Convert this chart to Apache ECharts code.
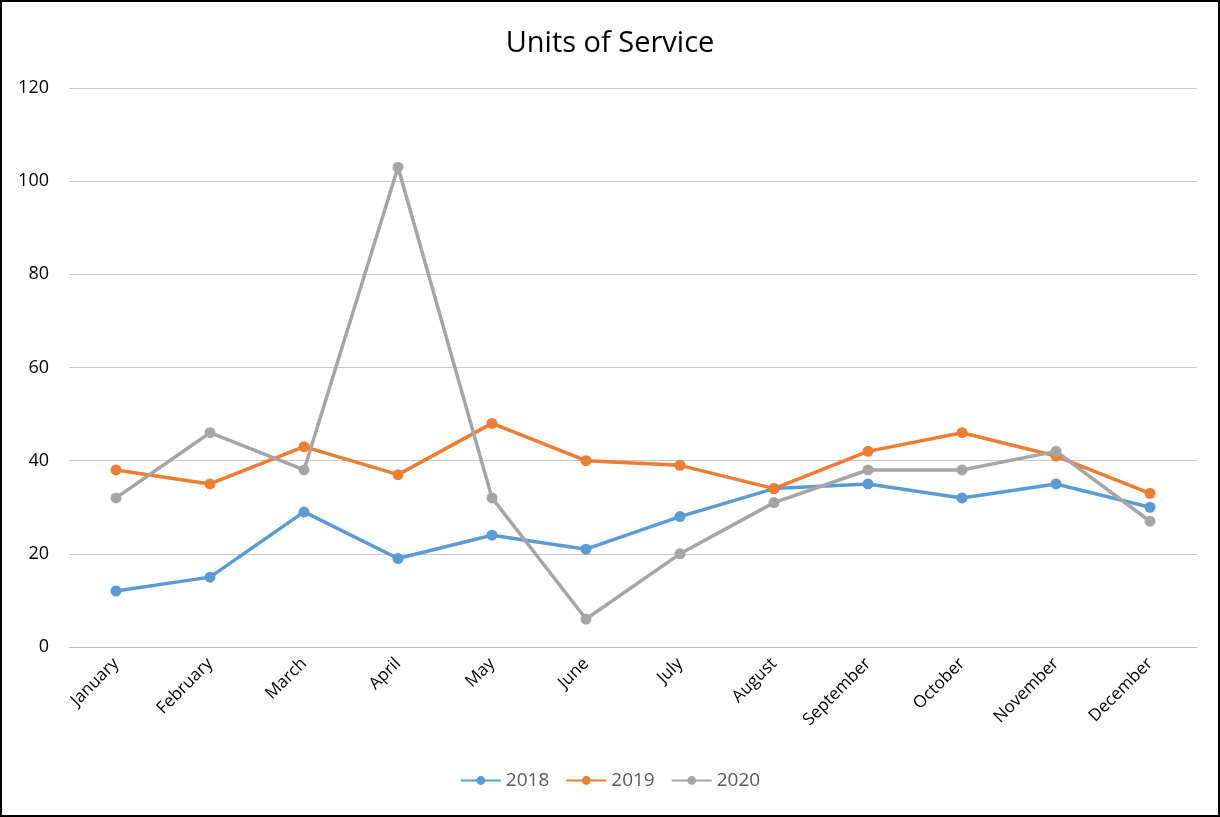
<!DOCTYPE html>
<html><head><meta charset="utf-8">
<script src="https://cdn.jsdelivr.net/npm/echarts@6/dist/echarts.min.js"></script>
<style>html,body{margin:0;padding:0;background:#fff}#c{width:1220px;height:817px;box-sizing:border-box;border:2px solid #000}</style>
</head><body><div id="c"></div>
<script>
const months = ['January','February','March','April','May','June','July','August','September','October','November','December'];
const s2018 = [12,15,29,19,24,21,28,34,35,32,35,30];
const s2019 = [38,35,43,37,48,40,39,34,42,46,41,33];
const s2020 = [32,46,38,103,32,6,20,31,38,38,42,27];
const yTicks = [0,20,40,60,80,100,120];
const font = 'Open Sans, Liberation Sans, sans-serif';
const chart = echarts.init(document.getElementById('c'));
function ser(name, data, color){
  return {name, type:'line', data, symbol:'circle', symbolSize:11, showSymbol:true,
    lineStyle:{width:3.5,color}, itemStyle:{color}, emphasis:{disabled:true}};
}
chart.setOption({
  animation:false,
  title:{text:'Units of Service', left:'center', top:22, textStyle:{fontFamily:font, fontSize:29, fontWeight:'normal', color:'#000'}},
  grid:{left:67, right:21, top:86, bottom:168},
  legend:{bottom:20, left:'center', itemWidth:40, itemHeight:11, itemGap:16,
    textStyle:{fontFamily:font, fontSize:19, color:'#595959'},
    data:['2018','2019','2020']},
  xAxis:{type:'category', data:months, boundaryGap:true,
    axisLine:{lineStyle:{color:'#bfbfbf'}}, axisTick:{show:false},
    axisLabel:{rotate:45, fontFamily:font, fontSize:17, color:'#000', margin:14, interval:0}},
  yAxis:{type:'value', min:yTicks[0], max:yTicks[yTicks.length-1], interval:20,
    axisLine:{show:false}, axisTick:{show:false},
    splitLine:{lineStyle:{color:'#c8c8c8', width:1}},
    axisLabel:{fontFamily:font, fontSize:18, color:'#000', margin:20}},
  series:[ser('2018', s2018, '#5b9bd5'), ser('2019', s2019, '#ed7d31'), ser('2020', s2020, '#a5a5a5')]
});
</script></body></html>
